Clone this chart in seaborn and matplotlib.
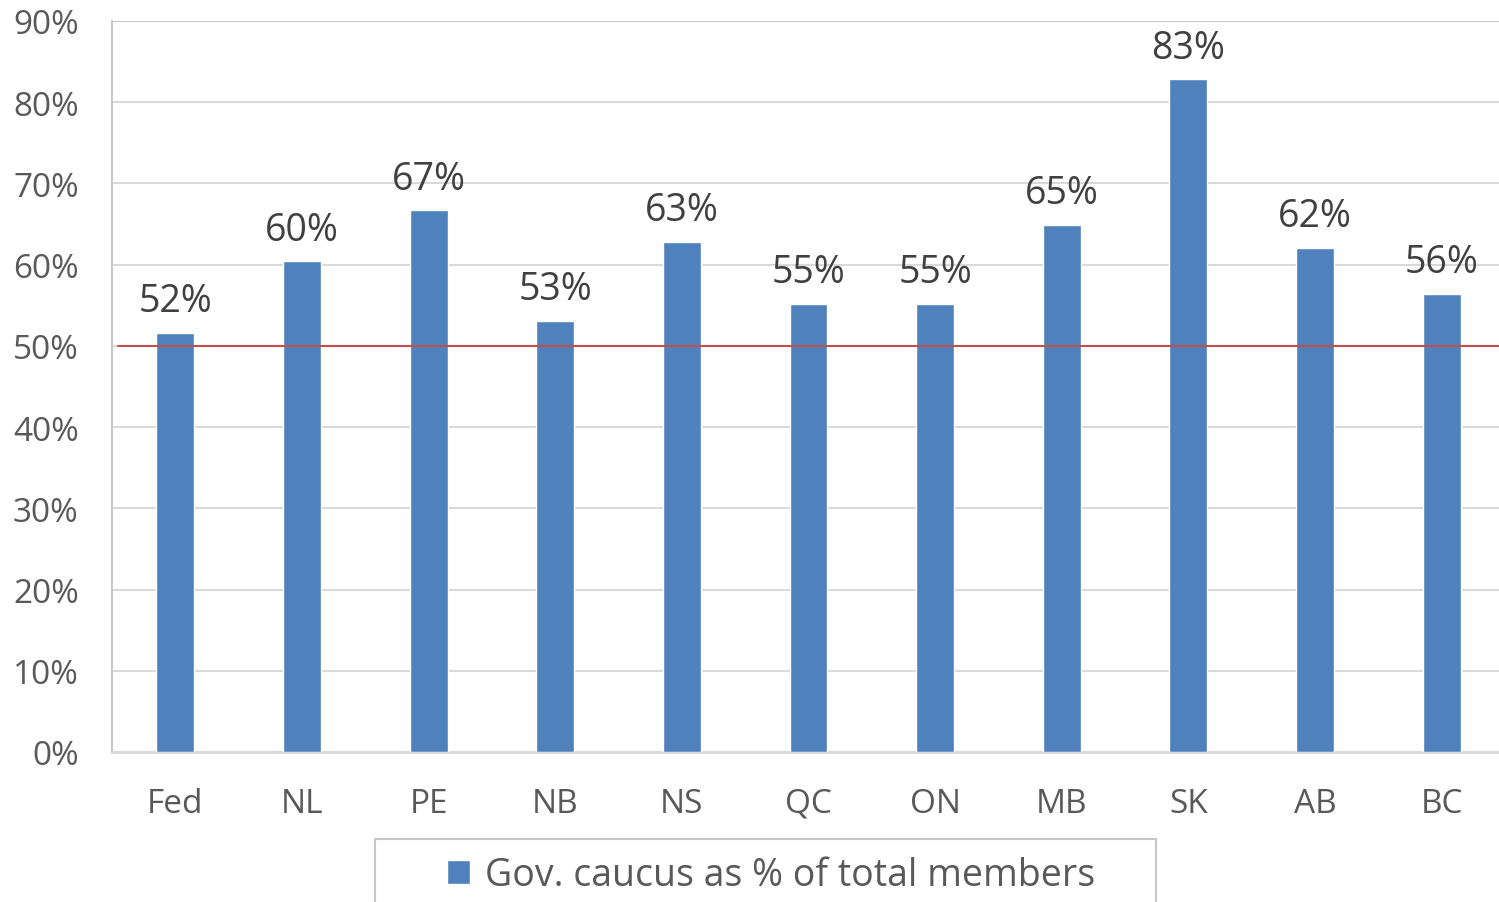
import matplotlib
matplotlib.use("Agg")
import matplotlib.pyplot as plt
import seaborn as sns
from matplotlib.patches import Rectangle
from matplotlib.ticker import PercentFormatter

# ---------- DATA ----------
categories = ["Fed", "NL", "PE", "NB", "NS", "QC", "ON", "MB", "SK", "AB", "BC"]
values = [0.516, 0.604, 0.667, 0.531, 0.628, 0.552, 0.552, 0.649, 0.828, 0.621, 0.564]
series_name = "Gov. caucus as % of total members"
majority = 0.5
y_ticks = [i / 10 for i in range(10)]
# --------------------------

BAR_COLOR = "#4f81bd"
GRID_COLOR = "#d9d9d9"

sns.set_theme(style="white")
plt.rcParams["font.family"] = ["Open Sans", "DejaVu Sans"]

fig = plt.figure(figsize=(14.99, 9.03), dpi=100)
ax = fig.add_axes([112 / 1499, 1 - 753 / 903, (1505 - 112) / 1499, (753 - 22) / 903])

sns.barplot(x=categories, y=values, color=BAR_COLOR, saturation=1, width=0.3,
            label=series_name, ax=ax, zorder=3)

ax.set_xlim(-0.5, len(categories) - 0.5)
ax.set_ylim(0, 0.9)
ax.set_yticks(y_ticks)
ax.yaxis.set_major_formatter(PercentFormatter(1.0, decimals=0))
ax.grid(axis="y", color=GRID_COLOR, linewidth=1.5, zorder=0)
ax.set_xlabel("")
ax.set_ylabel("")

for side in ["top", "right"]:
    ax.spines[side].set_visible(False)
ax.spines["left"].set_color("#c8c8c8")
ax.spines["left"].set_linewidth(1.5)
ax.spines["bottom"].set_color(GRID_COLOR)
ax.spines["bottom"].set_linewidth(2)
ax.axhline(0.9, color="#c8c8c8", linewidth=1.5, zorder=1)

ax.tick_params(axis="both", length=0, labelsize=24, labelcolor="#595959")
ax.tick_params(axis="y", pad=24)
ax.tick_params(axis="x", pad=25)

# 50% line
ax.axhline(majority, xmin=0.004, color="#c0504d", linewidth=1.5, zorder=4)

# data labels
ax.bar_label(ax.containers[0], labels=[f"{v * 100:.0f}%" for v in values],
             padding=9, fontsize=27, color="#404040")

# legend box
fig.patches.append(Rectangle((375 / 1499, -0.05), (1156 - 375) / 1499, 0.05 + (903 - 840) / 903,
                             transform=fig.transFigure, fill=False,
                             edgecolor="#c8c8c8", linewidth=1.5))
leg = ax.legend(loc="center", bbox_to_anchor=(771 / 1499, 1 - 876 / 903),
                bbox_transform=fig.transFigure, frameon=False, fontsize=27,
                handlelength=0.6, handleheight=0.6, handletextpad=0.4)
for t in leg.get_texts():
    t.set_color("#595959")

fig.savefig("out.png", dpi=100)
